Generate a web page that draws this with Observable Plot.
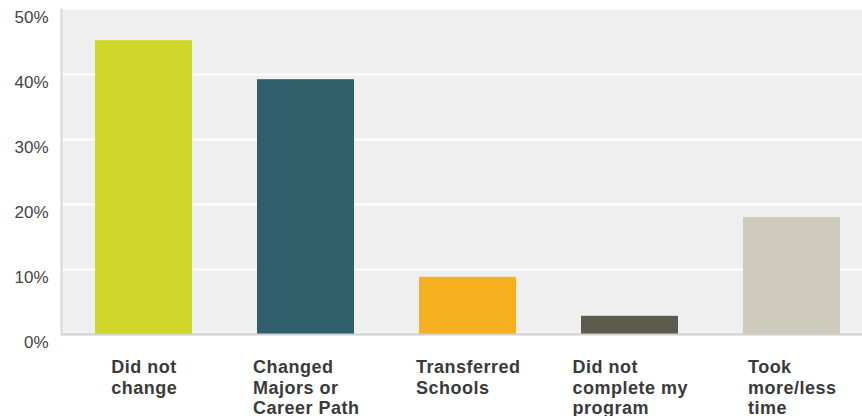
<!DOCTYPE html>
<html>
<head>
<meta charset="utf-8">
<script src="https://cdn.jsdelivr.net/npm/d3@7"></script>
<script src="https://cdn.jsdelivr.net/npm/@observablehq/plot@0.6"></script>
<style>
  html, body { margin: 0; padding: 0; background: #fff; }
  svg { display: block; }
  .cat-label text { letter-spacing: 0.5px; }
</style>
</head>
<body>
<div id="chart"></div>
<script>
const categories = ["Did not change", "Changed Majors or Career Path", "Transferred Schools", "Did not complete my program", "Took more/less time"];
const labelLines = [["Did not", "change"], ["Changed", "Majors or", "Career Path"], ["Transferred", "Schools"], ["Did not", "complete my", "program"], ["Took", "more/less", "time"]];
const values = [45.2, 39.2, 8.8, 2.8, 18.0];
const colors = ["#cfd529", "#2e5f6b", "#f6b01f", "#5c5a4a", "#cecbbd"];
const yTicks = [0, 10, 20, 30, 40, 50];

const data = categories.map((c, i) => ({ category: c, value: values[i], label: labelLines[i].join("\n") }));

const labelFont = "bold 18px 'Liberation Sans'";
const ctx = document.createElement("canvas").getContext("2d");
ctx.font = labelFont;
const blockWidth = labelLines.map(lines => Math.max(...lines.map(l => ctx.measureText(l).width + 0.5 * (l.length - 1))));

const labelMarks = data.map((d, i) => Plot.text([d], {
  x: "category", y: () => 0, text: "label",
  textAnchor: "start", lineAnchor: "top", lineHeight: 1.14,
  dx: -blockWidth[i] / 2, dy: 24,
  fontSize: 18, fontWeight: "bold", fontFamily: "Liberation Sans", fill: "#3a3a3a",
  className: "cat-label"
}));

const chart = Plot.plot({
  width: 862,
  height: 416,
  marginLeft: 61,
  marginRight: 0,
  marginTop: 9,
  marginBottom: 82,
  style: { fontFamily: "Liberation Sans", background: "#fff" },
  x: { domain: categories, range: [61.75, 874.25], paddingInner: 0.4, paddingOuter: 0.2, axis: null },
  y: { domain: [0, 50], axis: null },
  color: { domain: categories, range: colors },
  marks: [
    Plot.frame({ fill: "#efefef", stroke: null }),
    Plot.ruleY(yTicks.filter(t => t > 0 && t < 50), { stroke: "#ffffff", strokeWidth: 2 }),
    Plot.barY(data, { x: "category", y: "value", fill: "category" }),
    Plot.ruleY([0], { stroke: "#d0d0d0", strokeWidth: 2 }),
    Plot.frame({ anchor: "left", stroke: "#d8d8d8", strokeWidth: 2 }),
    Plot.axisY({ ticks: yTicks, tickSize: 0, tickPadding: 13, fontSize: 17, dy: 8, tickFormat: d => d + "%", fill: "#444", anchor: "left", label: null }),
    ...labelMarks
  ]
});
document.getElementById("chart").appendChild(chart);
</script>
</body>
</html>
